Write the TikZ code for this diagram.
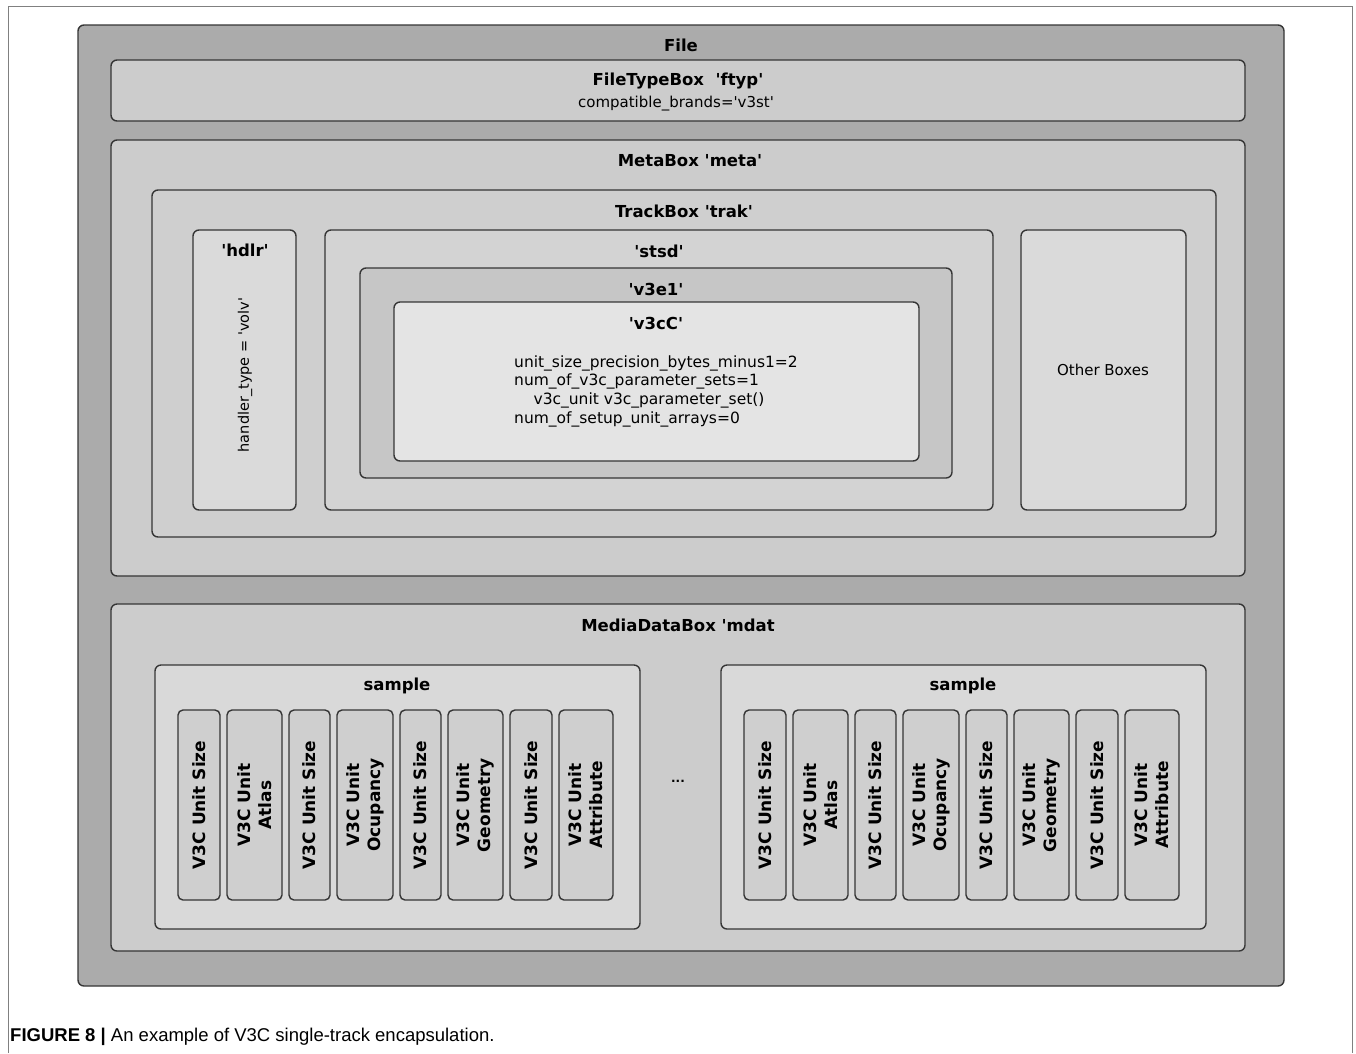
\documentclass[tikz,border=0pt]{standalone}
\usepackage{fontspec}
\setmainfont{DejaVu Sans}
\newfontfamily\capfont{Liberation Sans}
\newcommand\qt{\textquotesingle}

\definecolor{cLine}{HTML}{353535}
\definecolor{cFrame}{HTML}{808080}
\definecolor{cFile}{HTML}{ABABAB}
\definecolor{cLvl}{HTML}{CCCCCC}
\definecolor{cTrak}{HTML}{CFCFCF}
\definecolor{cStsd}{HTML}{D3D3D3}
\definecolor{cVe}{HTML}{C6C6C6}
\definecolor{cVc}{HTML}{E4E4E4}
\definecolor{cSide}{HTML}{DADADA}
\definecolor{cSample}{HTML}{D9D9D9}
\definecolor{cUnit}{HTML}{CFCFCF}

\begin{document}
\begin{tikzpicture}[x=1pt,y=-1pt,
  bx/.style={draw=cLine, line width=1.4pt, rounded corners=6pt, anchor=north west,
             inner sep=0pt, outer sep=0pt},
  ttl/.style={font=\bfseries\fontsize{16.5}{19}\selectfont, inner sep=0pt},
  body/.style={font=\fontsize{15}{18.7}\selectfont, inner sep=0pt},
  ulab/.style={font=\bfseries\fontsize{17}{21}\selectfont, rotate=90, align=center, inner sep=0pt}]

\useasboundingbox[fill=white] (0,0) rectangle (1356,1053);

% page frame
\draw[cFrame, line width=1pt] (8,1053) -- (8,6) -- (1352,6) -- (1352,1053);

% file container
\node[bx, fill=cFile, minimum width=1206pt, minimum height=961pt] (file) at (78,25) {};
\node[ttl] (fileT) at (681,45) {File};

% ftyp
\node[bx, fill=cLvl, minimum width=1134pt, minimum height=61pt] (ftyp) at (111,60) {};
\node[ttl] (ftypT) at (678,81) {FileTypeBox\ \ \qt ftyp\qt};
\node[body] (ftypB) at (676,104) {compatible\_brands=\qt v3st\qt};

% meta
\node[bx, fill=cLvl, minimum width=1134pt, minimum height=436pt] (meta) at (111,140) {};
\node[ttl] (metaT) at (690,161) {MetaBox \qt meta\qt};

% trak
\node[bx, fill=cTrak, minimum width=1064pt, minimum height=347pt] (trak) at (152,190) {};
\node[ttl] (trakT) at (684,211) {TrackBox \qt trak\qt};

% hdlr
\node[bx, fill=cSide, minimum width=103pt, minimum height=280pt] (hdlr) at (193,230) {};
\node[ttl] (hdlrT) at (245,250) {\qt hdlr\qt};
\node[body, rotate=90, font=\fontsize{14.5}{17}\selectfont] (hdlrB) at (245,375) {handler\_type = \qt volv\qt};

% stsd
\node[bx, fill=cStsd, minimum width=668pt, minimum height=280pt] (stsd) at (325,230) {};
\node[ttl] (stsdT) at (659,251) {\qt stsd\qt};

% v3e1
\node[bx, fill=cVe, minimum width=592pt, minimum height=210pt] (v3e1) at (360,268) {};
\node[ttl] (v3e1T) at (656,289) {\qt v3e1\qt};

% v3cC
\node[bx, fill=cVc, minimum width=525pt, minimum height=159pt] (v3cC) at (394,302) {};
\node[ttl] (v3cCT) at (656,323) {\qt v3cC\qt};
\node[body, anchor=west, align=left, font=\fontsize{15.5}{18.7}\selectfont] (v3cCB) at (514,391)
  {unit\_size\_precision\_bytes\_minus1=2\\
   num\_of\_v3c\_parameter\_sets=1\\
   \hspace*{1.25em}v3c\_unit v3c\_parameter\_set()\\
   num\_of\_setup\_unit\_arrays=0};

% other boxes
\node[bx, fill=cSide, minimum width=165pt, minimum height=280pt] (other) at (1021,230) {};
\node[body] (otherT) at (1103,370) {Other Boxes};

% mdat
\node[bx, fill=cLvl, minimum width=1134pt, minimum height=347pt] (mdat) at (111,604) {};
\node[ttl] (mdatT) at (678,625) {MediaDataBox \qt mdat};

% samples with their V3C units
\foreach \s/\sx in {1/155, 2/721} {
  \node[bx, fill=cSample, minimum width=485pt, minimum height=264pt] (smp\s) at (\sx,665) {};
  \node[ttl] (smp\s T) at (\sx+242,686) {sample};
  \foreach \n/\dx/\w/\t in {1/23/42/{V3C Unit Size}, 2/72/55/{V3C Unit\\Atlas},
                            3/134/41/{V3C Unit Size}, 4/182/56/{V3C Unit\\Ocupancy},
                            5/245/41/{V3C Unit Size}, 6/293/55/{V3C Unit\\Geometry},
                            7/355/42/{V3C Unit Size}, 8/404/54/{V3C Unit\\Attribute}} {
    \node[bx, fill=cUnit, rounded corners=5pt, minimum width=\w pt, minimum height=190pt]
      (s\s u\n) at (\sx+\dx,710) {};
    \node[ulab] (s\s l\n) at (s\s u\n.center) {\t};
  }
}
\node[body, font=\bfseries\fontsize{12}{14}\selectfont] (dots) at (678,781) {...};

% caption
\node[anchor=west, inner sep=0pt, font=\capfont\fontsize{18.5}{21}\selectfont] (cap) at (10,1037)
  {\textbf{FIGURE 8 |} An example of V3C single-track encapsulation.};
\end{tikzpicture}
\end{document}
